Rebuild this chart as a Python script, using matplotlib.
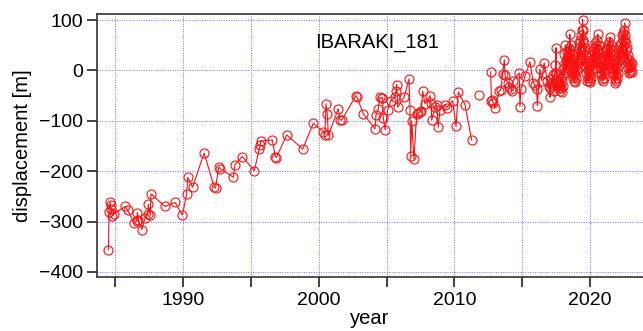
import numpy as np
import matplotlib.pyplot as plt
from matplotlib.ticker import MultipleLocator

nan = np.nan

# observation epochs (decimal year) and displacement [m]; nan marks a gap in the line
year = [
    # 1984 - 2000
    1984.50, 1984.55, 1984.62, 1984.66, 1984.70, 1984.79, 1984.94, 1985.73, 1985.92,
    1986.41, 1986.59, 1986.63, 1986.70, 1986.96, 1987.20, 1987.40, 1987.44, 1987.59,
    1987.64, 1988.67, 1989.41, 1989.95, 1990.27, 1990.35, 1990.71, 1991.55, 1992.31,
    1992.40, 1992.63, 1992.75, 1993.71, 1993.83, 1994.37, 1995.25, 1995.62, 1995.67,
    1995.75, 1996.58, 1996.80, 1996.88, 1997.64, 1998.82, 1999.60,
    # 2000 - 2011
    2000.34, 2000.45, 2000.54, 2000.63, 2000.71, 2001.44, 2001.57, 2001.69, 2002.75,
    2002.80, 2003.29, 2004.15, 2004.22, 2004.39, 2004.52, 2004.64, 2004.70, 2004.76,
    2004.89, 2005.08, 2005.31, 2005.62, 2005.70, 2005.75, 2005.82, 2006.31, 2006.65,
    2006.73, 2006.78, 2006.85, 2007.02, 2007.22, 2007.34, 2007.46, 2007.55, 2007.66,
    2007.83, 2008.20, 2008.28, 2008.33, 2008.57, 2008.70, 2008.81, 2008.94, 2009.31,
    2009.43, 2009.87, 2010.12, 2010.29, 2010.78, 2011.27, 2011.50, 2011.83, 2012.20,
    # 2012 - 2016
    2012.67, 2012.73, 2012.79, 2012.87, 2012.99, 2013.31, 2013.41, 2013.56, 2013.68,
    2013.73, 2013.93, 2014.05, 2014.15, 2014.22, 2014.34, 2014.78, 2014.83, 2014.91,
    2015.20, 2015.57, 2015.81, 2015.94, 2016.06, 2016.11, 2016.31, 2016.43, 2016.62,
    2016.85, 2016.95,
    # 2017
    2017.02, 2017.05, 2017.10, 2017.15, 2017.20, 2017.25, 2017.30, 2017.35, 2017.41,
    2017.45, 2017.49, 2017.52, 2017.56, 2017.60, 2017.64, 2017.68, 2017.72, 2017.76,
    2017.80, 2017.84, 2017.88, 2017.92, 2017.96,
    # 2018
    2018.00, 2018.03, 2018.06, 2018.09, 2018.12, 2018.15, 2018.18, 2018.21, 2018.24,
    2018.27, 2018.30, 2018.33, 2018.36, 2018.39, 2018.42, 2018.45, 2018.48, 2018.51,
    2018.54, 2018.57, 2018.60, 2018.63, 2018.66, 2018.69, 2018.72, 2018.75, 2018.78,
    2018.81, 2018.84, 2018.87, 2018.90, 2018.93, 2018.96,
    # 2019
    2019.00, 2019.03, 2019.06, 2019.09, 2019.12, 2019.15, 2019.18, 2019.21, 2019.24,
    2019.27, 2019.30, 2019.33, 2019.36, 2019.39, 2019.42, 2019.45, 2019.48, 2019.51,
    2019.54, 2019.57, 2019.60, 2019.63, 2019.66, 2019.69, 2019.72, 2019.75, 2019.78,
    2019.81, 2019.84, 2019.87, 2019.90, 2019.93, 2019.96,
    # 2020
    2020.00, 2020.03, 2020.06, 2020.09, 2020.12, 2020.15, 2020.18, 2020.21, 2020.24,
    2020.27, 2020.30, 2020.33, 2020.36, 2020.39, 2020.42, 2020.45, 2020.48, 2020.51,
    2020.54, 2020.57, 2020.60, 2020.63, 2020.66, 2020.69, 2020.72, 2020.75, 2020.78,
    2020.81, 2020.84, 2020.87, 2020.90, 2020.93, 2020.96, 2020.99,
    # 2021
    2021.02, 2021.05, 2021.08, 2021.11, 2021.14, 2021.17, 2021.20, 2021.23, 2021.26,
    2021.29, 2021.32, 2021.35, 2021.38, 2021.41, 2021.44, 2021.47, 2021.50, 2021.53,
    2021.56, 2021.59, 2021.62, 2021.65, 2021.68, 2021.71, 2021.74, 2021.77, 2021.80,
    2021.83, 2021.86, 2021.89, 2021.92, 2021.95, 2021.98,
    # 2022 - 2023
    2022.01, 2022.04, 2022.07, 2022.10, 2022.13, 2022.16, 2022.19, 2022.22, 2022.25,
    2022.28, 2022.31, 2022.34, 2022.37, 2022.40, 2022.43, 2022.46, 2022.49, 2022.52,
    2022.55, 2022.58, 2022.61, 2022.64, 2022.67, 2022.70, 2022.73, 2022.76, 2022.79,
    2022.82, 2022.85, 2022.88, 2022.91, 2022.94, 2022.97, 2023.00, 2023.03, 2023.06,
    2023.09,
]

disp = [
    # 1984 - 2000
    -356, -280, -262, -268, -275, -288, -284, -270, -278,
    -303, -298, -282, -296, -316, -293, -285, -266, -287,
    -245, -270, -262, -287, -245, -212, -232, -164, -232,
    -233, -192, -195, -212, -187, -171, -199, -156, -148,
    -140, -138, -171, -173, -128, -156, -105,
    # 2000 - 2011
    -122, -128, -66, -86, -129, -76, -98, -99, -50,
    -52, -86, -116, -89, -76, -53, -55, -54, -94,
    -118, -79, -60, -53, -40, -28, -73, -52, -17,
    -78, -169, -100, -176, -86, -85, -82, -80, -41,
    -66, -50, -65, -99, -72, -68, -113, -78, -68,
    -74, -60, -111, -43, -68, -138, nan, -48, nan,
    # 2012 - 2016
    -3, -60, -58, -65, -74, -40, -39, -7, 21,
    -10, -25, -33, -36, -40, -20, -5, -72, -36,
    -12, 17, -25, -28, -36, -70, 3, -20, 15,
    -20, -30,
    # 2017
    -35, -53, -25, -18, -30, -10, -22, -40, -5,
    10, 45, -8, -20, -30, -12, -35, -25, -40,
    -28, -15, -35, -20, -42,
    # 2018
    -30, -10, 5, 33, -5, 15, 50, 20, 0,
    25, 10, 38, 5, 28, 45, 15, 35, 72,
    40, 20, 50, 10, 30, -5, 15, -15, 5,
    -20, -5, -23, -10, 10, -15,
    # 2019
    5, 25, 0, 35, 15, 45, 20, 55, 30,
    60, 40, 25, 70, 45, 80, 101, 60, 80,
    40, 55, 20, 45, 10, 30, -5, 15, -20,
    0, -15, 10, -20, -5, -22,
    # 2020
    -10, 10, -15, 20, 0, 30, 10, 40, 15,
    35, 5, 45, 20, 55, 30, 50, 15, 40,
    60, 72, 35, 50, 20, 40, 5, 25, -5,
    15, -10, 10, -18, 0, -21, -8,
    # 2021
    10, -15, 20, 0, 30, 10, 40, 15, 45,
    25, 50, 30, 56, 20, 45, 66, 35, 50,
    15, 40, 5, 30, -5, 20, -10, 10, -18,
    0, -25, -10, -20, 5, -15,
    # 2022 - 2023
    15, -5, 20, 33, 10, 40, 20, 50, 25,
    55, 35, 70, 40, 60, 30, 75, 50, 80,
    94, 60, 70, 40, 55, 25, 45, 15, 30,
    5, 20, -5, 10, -3, 7, 17, 0, 12,
    -3,
]

station = "IBARAKI_181"

plt.rcParams['font.family'] = ['Liberation Sans', 'DejaVu Sans']

fig = plt.figure(figsize=(6.43, 3.31), dpi=100)
ax = fig.add_axes([97 / 643, 1 - 277 / 331, 1 - 97 / 643, (277 - 14) / 331])

ax.plot(year, disp, color='#ff1010', lw=0.8, marker='o', ms=6.5,
        mfc='none', mec='#ff1010', mew=0.8)

ax.set_xlim(1983.66, 2023.9)
ax.set_ylim(-410, 112)
ax.xaxis.set_major_locator(MultipleLocator(10))
ax.xaxis.set_minor_locator(MultipleLocator(5))
ax.yaxis.set_major_locator(MultipleLocator(100))

ax.grid(True, which='both', color='#7070ee', ls=(0, (1, 1.5)), lw=0.7)
ax.set_axisbelow(True)

for side in ['left', 'top', 'bottom']:
    ax.spines[side].set_color('#333333')
    ax.spines[side].set_linewidth(1.2)
ax.spines['right'].set_visible(False)

ax.tick_params(axis='both', which='both', direction='out', length=7, width=1.2,
               color='#222222', labelsize=14, pad=3)
ax.tick_params(axis='x', which='both', top=False, pad=4)

ax.set_xlabel('year', fontsize=14.5, labelpad=0)
ax.set_ylabel('displacement [m]', fontsize=14.5, labelpad=5)

ax.text(0.513, 0.89, station, transform=ax.transAxes, ha='center', va='center',
        fontsize=14.5)

fig.savefig('out.png', dpi=100)
